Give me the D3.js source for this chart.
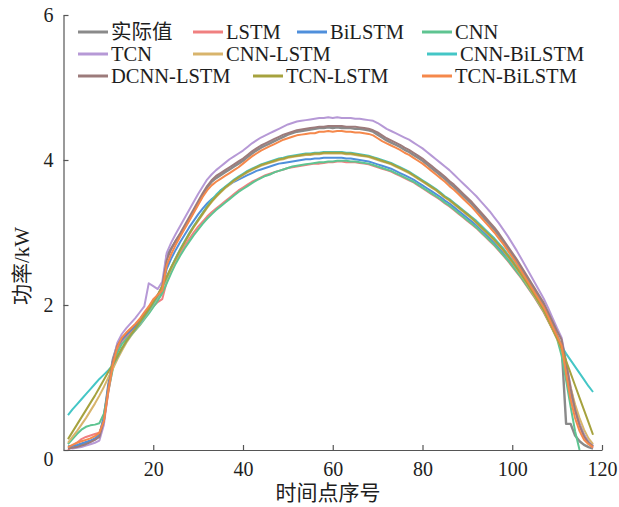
<!DOCTYPE html>
<html><head><meta charset="utf-8">
<script src="https://cdn.jsdelivr.net/npm/d3@7"></script>
<style>html,body{margin:0;padding:0;background:#fff;}svg{display:block;}</style>
</head><body><div id="chart"></div>
<script>
const seriesNames = ["实际值","LSTM","BiLSTM","CNN","TCN","CNN-LSTM","CNN-BiLSTM","DCNN-LSTM","TCN-LSTM","TCN-BiLSTM"];
const seriesColors = ["#8a8a8a","#f08080","#4f8fdb","#5ec491","#b699d6","#d8b46c","#44c6c6","#9c7b7b","#a6a23e","#f5884b"];
const xTicks = [20,40,60,80,100,120];
const yTicks = [0,2,4,6];

const actual = [0.05,0.03,0.05,0.07,0.09,0.12,0.15,0.20,0.45,0.90,
1.25,1.45,1.52,1.58,1.64,1.70,1.77,1.85,1.93,2.03,
2.10,2.20,2.68,2.78,2.88,2.97,3.07,3.18,3.29,3.40,
3.51,3.62,3.70,3.75,3.79,3.83,3.87,3.91,3.95,3.99,
4.04,4.09,4.13,4.17,4.20,4.23,4.26,4.29,4.32,4.35,
4.37,4.39,4.40,4.41,4.42,4.43,4.44,4.44,4.45,4.44,
4.45,4.44,4.44,4.44,4.43,4.43,4.42,4.41,4.39,4.35,
4.31,4.27,4.24,4.21,4.18,4.14,4.11,4.07,4.03,3.99,
3.94,3.89,3.84,3.79,3.74,3.68,3.63,3.57,3.51,3.45,
3.39,3.32,3.25,3.18,3.11,3.04,2.96,2.87,2.78,2.69,
2.60,2.50,2.40,2.30,2.20,2.10,2.00,1.86,1.72,1.58,
1.43,0.36,0.36,0.20,0.12,0.07,0.04,0.02];

const lstm = [0.00,0.05,0.10,0.15,0.18,0.20,0.22,0.24,0.40,0.80,
1.15,1.38,1.50,1.56,1.61,1.67,1.74,1.82,1.90,1.98,
2.04,2.08,2.32,2.48,2.61,2.72,2.82,2.91,3.00,3.08,
3.15,3.22,3.28,3.33,3.38,3.43,3.48,3.53,3.58,3.62,
3.66,3.70,3.73,3.76,3.79,3.81,3.83,3.85,3.87,3.89,
3.90,3.91,3.92,3.93,3.94,3.95,3.95,3.96,3.97,3.97,
3.98,3.98,3.97,3.97,3.97,3.96,3.95,3.94,3.92,3.90,
3.88,3.86,3.84,3.81,3.78,3.75,3.72,3.69,3.65,3.61,
3.57,3.53,3.49,3.45,3.40,3.36,3.31,3.26,3.21,3.16,
3.11,3.06,3.00,2.94,2.88,2.82,2.75,2.68,2.61,2.53,
2.45,2.37,2.28,2.19,2.10,2.00,1.90,1.78,1.66,1.54,
1.42,1.10,0.80,0.54,0.33,0.18,0.09,0.03];

const bilstm = [0.05,0.06,0.07,0.09,0.11,0.13,0.16,0.21,0.45,0.88,
1.22,1.42,1.52,1.59,1.65,1.71,1.78,1.86,1.94,2.04,
2.12,2.22,2.50,2.64,2.76,2.87,2.97,3.07,3.16,3.25,
3.33,3.40,3.46,3.50,3.58,3.62,3.66,3.70,3.73,3.76,
3.79,3.82,3.85,3.87,3.89,3.91,3.93,3.95,3.96,3.97,
3.98,3.99,4.00,4.01,4.01,4.02,4.02,4.03,4.03,4.03,
4.03,4.03,4.02,4.02,4.01,4.00,3.99,3.98,3.96,3.94,
3.92,3.90,3.88,3.85,3.82,3.79,3.76,3.73,3.69,3.65,
3.61,3.57,3.53,3.49,3.44,3.40,3.35,3.30,3.25,3.20,
3.15,3.10,3.04,2.98,2.92,2.86,2.79,2.72,2.65,2.57,
2.49,2.40,2.31,2.22,2.12,2.02,1.92,1.80,1.68,1.56,
1.44,1.12,0.82,0.56,0.36,0.21,0.11,0.05];

const cnn = [0.08,0.15,0.22,0.28,0.32,0.34,0.35,0.37,0.50,0.82,
1.12,1.34,1.46,1.53,1.59,1.65,1.72,1.80,1.88,1.97,
2.06,2.16,2.30,2.44,2.57,2.68,2.78,2.87,2.96,3.04,
3.12,3.19,3.25,3.31,3.36,3.41,3.46,3.51,3.56,3.60,
3.64,3.68,3.72,3.75,3.78,3.80,3.83,3.85,3.87,3.89,
3.91,3.92,3.93,3.94,3.95,3.96,3.97,3.97,3.98,3.98,
3.99,3.99,3.99,3.98,3.98,3.97,3.96,3.95,3.93,3.91,
3.89,3.87,3.85,3.82,3.79,3.76,3.73,3.70,3.66,3.62,
3.58,3.54,3.50,3.46,3.41,3.37,3.32,3.27,3.22,3.17,
3.12,3.07,3.01,2.95,2.89,2.83,2.76,2.69,2.62,2.54,
2.46,2.38,2.29,2.20,2.11,2.01,1.91,1.79,1.66,1.53,
1.30,0.96,0.60,0.26,0.00,null,null,null];

const tcn = [0.03,0.02,0.03,0.04,0.06,0.08,0.10,0.13,0.35,0.82,
1.22,1.48,1.60,1.68,1.75,1.82,1.90,1.98,2.30,2.26,
2.22,2.32,2.72,2.86,2.98,3.09,3.20,3.31,3.42,3.53,
3.63,3.73,3.80,3.86,3.91,3.96,4.01,4.05,4.09,4.13,
4.18,4.23,4.27,4.31,4.34,4.37,4.40,4.43,4.46,4.49,
4.51,4.53,4.54,4.55,4.56,4.57,4.58,4.58,4.59,4.58,
4.59,4.58,4.58,4.58,4.57,4.57,4.56,4.55,4.54,4.51,
4.47,4.43,4.40,4.37,4.34,4.31,4.28,4.24,4.20,4.16,
4.11,4.06,4.01,3.96,3.91,3.86,3.80,3.74,3.68,3.62,
3.56,3.50,3.43,3.36,3.29,3.21,3.13,3.04,2.95,2.85,
2.75,2.64,2.53,2.42,2.31,2.20,2.09,1.96,1.82,1.68,
1.55,1.22,0.88,0.58,0.36,0.21,0.11,0.06];

const cnnLstm = [0.10,0.18,0.26,0.35,0.44,0.54,0.64,0.75,0.87,1.00,
1.12,1.25,1.37,1.48,1.57,1.65,1.73,1.82,1.91,2.01,
2.11,2.23,2.36,2.50,2.63,2.75,2.86,2.97,3.07,3.16,
3.25,3.34,3.42,3.49,3.55,3.61,3.66,3.71,3.75,3.79,
3.83,3.86,3.89,3.92,3.94,3.96,3.98,4.00,4.01,4.03,
4.04,4.05,4.06,4.07,4.07,4.08,4.08,4.09,4.09,4.09,
4.09,4.09,4.08,4.08,4.07,4.06,4.05,4.04,4.02,4.00,
3.98,3.96,3.94,3.91,3.88,3.85,3.82,3.78,3.74,3.70,
3.66,3.62,3.58,3.53,3.48,3.44,3.39,3.34,3.29,3.24,
3.19,3.13,3.07,3.01,2.95,2.89,2.82,2.75,2.67,2.59,
2.50,2.41,2.32,2.22,2.12,2.02,1.92,1.79,1.66,1.53,
1.40,1.12,0.86,0.63,0.44,0.28,0.16,0.08];

const cnnBilstm = [0.48,0.56,0.63,0.70,0.77,0.84,0.91,0.98,1.04,1.10,
1.17,1.28,1.40,1.50,1.58,1.66,1.74,1.83,1.92,2.02,
2.12,2.24,2.38,2.52,2.65,2.77,2.88,2.99,3.09,3.18,
3.27,3.36,3.45,3.52,3.58,3.63,3.68,3.73,3.77,3.81,
3.85,3.88,3.91,3.94,3.96,3.98,4.00,4.02,4.03,4.05,
4.06,4.07,4.08,4.09,4.09,4.10,4.10,4.11,4.11,4.11,
4.11,4.11,4.10,4.10,4.09,4.08,4.07,4.06,4.04,4.02,
4.00,3.98,3.96,3.93,3.90,3.87,3.84,3.80,3.76,3.72,
3.68,3.64,3.60,3.55,3.50,3.46,3.41,3.36,3.31,3.26,
3.21,3.16,3.10,3.04,2.98,2.92,2.85,2.78,2.70,2.62,
2.53,2.44,2.35,2.25,2.15,2.05,1.95,1.82,1.69,1.56,
1.43,1.33,1.24,1.15,1.06,0.97,0.88,0.80];

const dcnnLstm = [0.02,0.03,0.04,0.06,0.08,0.11,0.14,0.18,0.40,0.85,
1.22,1.44,1.54,1.61,1.67,1.73,1.80,1.88,1.96,2.06,
2.14,2.26,2.62,2.77,2.89,2.99,3.10,3.21,3.32,3.43,
3.54,3.64,3.72,3.78,3.82,3.86,3.90,3.94,3.98,4.02,
4.07,4.12,4.16,4.20,4.23,4.26,4.29,4.32,4.35,4.37,
4.39,4.41,4.42,4.43,4.44,4.45,4.46,4.46,4.47,4.47,
4.47,4.47,4.46,4.46,4.46,4.45,4.44,4.43,4.41,4.38,
4.34,4.30,4.27,4.24,4.21,4.17,4.14,4.10,4.06,4.02,
3.97,3.92,3.87,3.82,3.77,3.71,3.66,3.60,3.54,3.48,
3.42,3.35,3.28,3.21,3.14,3.07,2.99,2.90,2.81,2.72,
2.63,2.53,2.43,2.33,2.23,2.13,2.03,1.90,1.77,1.64,
1.52,1.20,0.85,0.56,0.34,0.19,0.10,0.05];

const tcnLstm = [0.15,0.25,0.35,0.45,0.55,0.65,0.75,0.86,0.97,1.08,
1.18,1.29,1.40,1.50,1.59,1.67,1.76,1.85,1.94,2.04,
2.14,2.26,2.39,2.52,2.64,2.76,2.87,2.98,3.08,3.17,
3.26,3.35,3.43,3.50,3.56,3.62,3.67,3.72,3.76,3.80,
3.84,3.87,3.90,3.93,3.95,3.97,3.99,4.01,4.02,4.04,
4.05,4.06,4.07,4.08,4.08,4.09,4.09,4.10,4.10,4.10,
4.10,4.10,4.09,4.09,4.08,4.07,4.06,4.05,4.03,4.01,
3.99,3.97,3.95,3.92,3.89,3.86,3.83,3.79,3.75,3.71,
3.67,3.63,3.59,3.54,3.49,3.45,3.40,3.35,3.30,3.25,
3.20,3.14,3.08,3.02,2.96,2.90,2.83,2.76,2.68,2.60,
2.51,2.42,2.33,2.23,2.13,2.03,1.93,1.80,1.67,1.54,
1.40,1.23,1.06,0.89,0.72,0.55,0.38,0.21];

const tcnBilstm = [0.04,0.07,0.10,0.12,0.14,0.16,0.19,0.24,0.40,0.82,
1.18,1.42,1.55,1.62,1.68,1.74,1.81,1.90,1.98,2.08,
2.14,2.20,2.55,2.70,2.83,2.94,3.05,3.16,3.27,3.38,
3.49,3.58,3.65,3.70,3.74,3.78,3.82,3.86,3.90,3.95,
4.00,4.05,4.09,4.13,4.16,4.19,4.22,4.25,4.28,4.30,
4.32,4.34,4.35,4.36,4.37,4.37,4.39,4.39,4.40,4.39,
4.40,4.40,4.39,4.39,4.38,4.38,4.37,4.36,4.34,4.30,
4.26,4.23,4.20,4.17,4.14,4.10,4.07,4.03,3.99,3.95,
3.90,3.85,3.80,3.75,3.70,3.64,3.59,3.53,3.47,3.41,
3.35,3.28,3.21,3.14,3.07,3.00,2.92,2.84,2.75,2.66,
2.57,2.47,2.37,2.27,2.17,2.07,1.97,1.84,1.70,1.57,
1.44,1.05,0.70,0.44,0.26,0.14,0.08,0.04];

const seriesValues = [actual,lstm,bilstm,cnn,tcn,cnnLstm,cnnBilstm,dcnnLstm,tcnLstm,tcnBilstm];
const timeIndex = d3.range(1, actual.length + 1);

const W = 619, H = 507;
const svg = d3.select("#chart").append("svg").attr("width", W).attr("height", H);
const x = d3.scaleLinear().domain([0,120]).range([63.5,602]);
const y = d3.scaleLinear().domain([0,6]).range([450,15]);
const serif = "'Liberation Serif','Times New Roman','Noto Sans CJK SC',serif";
const axisColor = "#555";
const textColor = "#1e1e1e";

// lines
const line = d3.line().defined(d => d[1] != null).x(d => x(d[0])).y(d => y(d[1]));
seriesValues.forEach((vals, i) => {
  svg.append("path")
    .datum(timeIndex.map((t, j) => [t, vals[j]]))
    .attr("fill","none").attr("stroke", seriesColors[i])
    .attr("stroke-width", i === 0 ? 2.4 : 2).attr("stroke-linejoin","round")
    .attr("d", line);
});

// axes
const gx = svg.append("g").attr("transform","translate(0,450)")
  .call(d3.axisBottom(x).tickValues(xTicks).tickSizeInner(-5).tickSizeOuter(0).tickPadding(12));
const gy = svg.append("g").attr("transform","translate(63.5,0)")
  .call(d3.axisLeft(y).tickValues(yTicks).tickSizeInner(-5).tickSizeOuter(0).tickPadding(10).tickFormat(d3.format("d")));
[gx, gy].forEach(g => {
  g.select(".domain").attr("stroke", axisColor).attr("stroke-width", 1.2);
  g.selectAll(".tick line").attr("stroke", axisColor).attr("stroke-width", 1.2);
  g.selectAll(".tick text").attr("fill", textColor).style("font-family", serif).style("font-size","20px");
});
gy.selectAll(".tick text").filter(d => d === 0).attr("dy", "0.75em");

// axis titles
svg.append("text").attr("x", 328).attr("y", 500).attr("text-anchor","middle")
  .style("font-family", serif).style("font-size","21px").attr("fill", textColor).text("时间点序号");
svg.append("text").attr("transform","translate(29,266) rotate(-90)").attr("text-anchor","middle")
  .style("font-family", serif).style("font-size","21px").attr("fill", textColor).text("功率/kW");

// legend
const legendRows = [0,0,0,0,1,1,1,2,2,2];
const legendCols = [78,193,297,422,78,193,427,78,253,422];
const rowY = [32,54,76];
seriesNames.forEach((name, i) => {
  const g = svg.append("g").attr("transform", `translate(${legendCols[i]},${rowY[legendRows[i]]})`);
  g.append("line").attr("x1",0).attr("x2",30).attr("y1",0).attr("y2",0)
    .attr("stroke", seriesColors[i]).attr("stroke-width", 3);
  g.append("text").attr("x", 33).attr("y", 0).attr("dy","0.35em")
    .style("font-family", serif).style("font-size","20.5px").attr("fill", textColor).text(name);
});
</script></body></html>
